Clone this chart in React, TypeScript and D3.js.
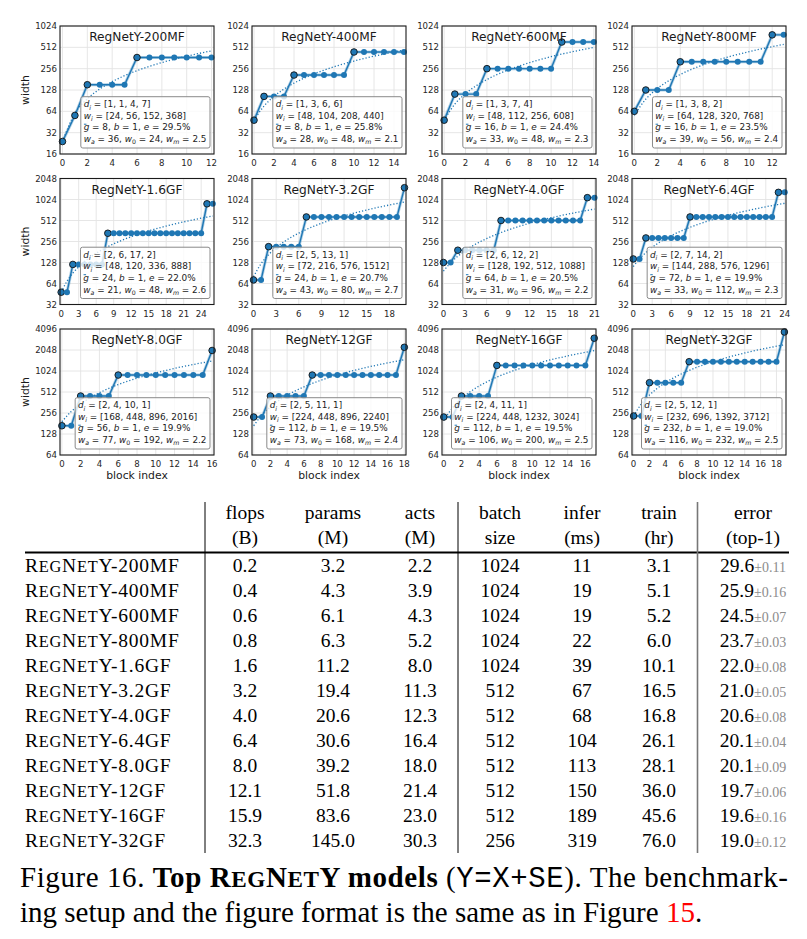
import React, { useEffect, useRef } from "react";
import * as d3 from "d3";

// ---------- panel data ----------
const modelNames = [
  "RegNetY-200MF", "RegNetY-400MF", "RegNetY-600MF", "RegNetY-800MF",
  "RegNetY-1.6GF", "RegNetY-3.2GF", "RegNetY-4.0GF", "RegNetY-6.4GF",
  "RegNetY-8.0GF", "RegNetY-12GF", "RegNetY-16GF", "RegNetY-32GF",
];
const stageDepths = [
  [1, 1, 4, 7], [1, 3, 6, 6], [1, 3, 7, 4], [1, 3, 8, 2],
  [2, 6, 17, 2], [2, 5, 13, 1], [2, 6, 12, 2], [2, 7, 14, 2],
  [2, 4, 10, 1], [2, 5, 11, 1], [2, 4, 11, 1], [2, 5, 12, 1],
];
const stageWidths = [
  [24, 56, 152, 368], [48, 104, 208, 440], [48, 112, 256, 608], [64, 128, 320, 768],
  [48, 120, 336, 888], [72, 216, 576, 1512], [128, 192, 512, 1088], [144, 288, 576, 1296],
  [168, 448, 896, 2016], [224, 448, 896, 2240], [224, 448, 1232, 3024], [232, 696, 1392, 3712],
];
const groupG = [8, 8, 16, 16, 24, 24, 64, 72, 56, 112, 112, 232];
const bottleneckB = [1, 1, 1, 1, 1, 1, 1, 1, 1, 1, 1, 1];
const errorE = ["29.5", "25.8", "24.4", "23.5", "22.0", "20.7", "20.5", "19.9", "19.9", "19.5", "19.5", "19.0"];
const slopeWa = [36, 28, 33, 39, 21, 43, 31, 33, 77, 73, 106, 116];
const initW0 = [24, 48, 48, 56, 48, 80, 96, 112, 192, 168, 200, 232];
const multWm = ["2.5", "2.1", "2.3", "2.4", "2.6", "2.7", "2.2", "2.3", "2.2", "2.4", "2.5", "2.5"];
const rowYDomains = [[16, 1024], [32, 2048], [64, 4096]];
const rowXTickStep = [2, 3, 2];

// ---------- table data ----------
const tableSuffix = ["200MF", "400MF", "600MF", "800MF", "1.6GF", "3.2GF", "4.0GF", "6.4GF", "8.0GF", "12GF", "16GF", "32GF"];
const colFlops = ["0.2", "0.4", "0.6", "0.8", "1.6", "3.2", "4.0", "6.4", "8.0", "12.1", "15.9", "32.3"];
const colParams = ["3.2", "4.3", "6.1", "6.3", "11.2", "19.4", "20.6", "30.6", "39.2", "51.8", "83.6", "145.0"];
const colActs = ["2.2", "3.9", "4.3", "5.2", "8.0", "11.3", "12.3", "16.4", "18.0", "21.4", "23.0", "30.3"];
const colBatch = ["1024", "1024", "1024", "1024", "1024", "512", "512", "512", "512", "512", "512", "256"];
const colInfer = ["11", "19", "19", "22", "39", "67", "68", "104", "113", "150", "189", "319"];
const colTrain = ["3.1", "5.1", "5.2", "6.0", "10.1", "16.5", "16.8", "26.1", "28.1", "36.0", "45.6", "76.0"];
const colError = ["29.6", "25.9", "24.5", "23.7", "22.0", "21.0", "20.6", "20.1", "20.1", "19.7", "19.6", "19.0"];
const colErrStd = ["0.11", "0.16", "0.07", "0.03", "0.08", "0.05", "0.08", "0.04", "0.09", "0.06", "0.16", "0.12"];
const headTop = ["flops", "params", "acts", "batch", "infer", "train", "error"];
const headBot = ["(B)", "(M)", "(M)", "size", "(ms)", "(hr)", "(top-1)"];

const BLUE = "#1f77b4";
const SANS = "DejaVu Sans";
const SERIF = "Liberation Serif";
const MONO = "Liberation Mono, DejaVu Sans Mono, monospace";

type Seg = { t: string; it?: boolean; sub?: boolean };

function richText(g: any, segs: Seg[], x: number, y: number, fs: number) {
  const t = g.append("text").attr("x", x).attr("y", y).attr("font-size", fs)
    .attr("font-family", SANS).attr("fill", "#222");
  let inSub = false;
  segs.forEach((s) => {
    const ts = t.append("tspan").text(s.t);
    if (s.it) ts.attr("font-style", "italic");
    if (s.sub && !inSub) { ts.attr("dy", fs * 0.28).attr("font-size", fs * 0.7); inSub = true; }
    else if (s.sub) ts.attr("font-size", fs * 0.7);
    else if (!s.sub && inSub) { ts.attr("dy", -fs * 0.28); inSub = false; }
  });
  return t;
}

export default function App() {
  const ref = useRef<SVGSVGElement>(null);

  useEffect(() => {
    const svg = d3.select(ref.current);
    svg.selectAll("*").remove();
    svg.append("rect").attr("width", 807).attr("height", 939).attr("fill", "#fff");

    const colLefts = [60, 252, 442, 632];
    const plotW = 154;
    const rowTops = [26, 178.5, 329];
    const rowBots = [154, 304.5, 455];

    modelNames.forEach((name, k) => {
      const r = Math.floor(k / 4), c = k % 4;
      const x0 = colLefts[c], x1 = x0 + plotW, y0 = rowTops[r], y1 = rowBots[r];
      const depth = d3.sum(stageDepths[k]);
      const blockW: number[] = [];
      const firstIdx: number[] = [];
      stageDepths[k].forEach((d, s) => {
        firstIdx.push(blockW.length);
        for (let i = 0; i < d; i++) blockW.push(stageWidths[k][s]);
      });
      const idx = d3.range(depth);
      const xs = d3.scaleLinear().domain([-0.2, depth - 1 + 0.2]).range([x0, x1]);
      const ys = d3.scaleLog().base(2).domain(rowYDomains[r]).range([y1, y0]);
      const yTicks: number[] = [];
      for (let v = rowYDomains[r][0]; v <= rowYDomains[r][1]; v *= 2) yTicks.push(v);
      const xTicks = d3.range(0, depth, rowXTickStep[r]);

      const g = svg.append("g");
      // grid
      g.selectAll(".gx").data(xTicks).join("line")
        .attr("x1", (d: number) => xs(d)).attr("x2", (d: number) => xs(d))
        .attr("y1", y0).attr("y2", y1).attr("stroke", "#e3e3e3").attr("stroke-width", 0.9);
      g.selectAll(".gy").data(yTicks).join("line")
        .attr("x1", x0).attr("x2", x1)
        .attr("y1", (d: number) => ys(d)).attr("y2", (d: number) => ys(d))
        .attr("stroke", "#e3e3e3").attr("stroke-width", 0.9);

      // dotted linear parameterization
      const lin = d3.line<number>().x((j) => xs(j)).y((j) => ys(initW0[k] + slopeWa[k] * j)).curve(d3.curveMonotoneX);
      g.append("path").attr("d", lin(idx)).attr("fill", "none").attr("stroke", BLUE)
        .attr("stroke-width", 1.3).attr("stroke-dasharray", "1.2,2");

      // quantized widths
      const ln = d3.line<number>().x((j) => xs(j)).y((j) => ys(blockW[j]));
      g.append("path").attr("d", ln(idx)).attr("fill", "none").attr("stroke", BLUE)
        .attr("stroke-width", 3).attr("stroke-opacity", 0.35);
      g.append("path").attr("d", ln(idx)).attr("fill", "none").attr("stroke", BLUE)
        .attr("stroke-width", 1.4);
      g.selectAll(".m").data(idx).join("circle")
        .attr("cx", (j: number) => xs(j)).attr("cy", (j: number) => ys(blockW[j]))
        .attr("r", (j: number) => (firstIdx.includes(j) ? 3.3 : 3))
        .attr("fill", BLUE)
        .attr("stroke", (j: number) => (firstIdx.includes(j) ? "#111" : "none"))
        .attr("stroke-width", 0.9);

      // frame
      g.append("rect").attr("x", x0).attr("y", y0).attr("width", x1 - x0).attr("height", y1 - y0)
        .attr("fill", "none").attr("stroke", "#1a1a1a").attr("stroke-width", 1.1);

      // title
      g.append("text").attr("x", (x0 + x1) / 2).attr("y", y0 + 15).attr("text-anchor", "middle")
        .attr("font-family", SANS).attr("font-size", 12.2).attr("fill", "#1a1a1a").text(name);

      // legend box
      const lg = g.append("g");
      const fs = 8.9, lh = 11.6;
      const lines: Seg[][] = [
        [{ t: "d", it: true }, { t: "i", it: true, sub: true }, { t: ` = [${stageDepths[k].join(", ")}]` }],
        [{ t: "w", it: true }, { t: "i", it: true, sub: true }, { t: ` = [${stageWidths[k].join(", ")}]` }],
        [{ t: "g", it: true }, { t: ` = ${groupG[k]}, ` }, { t: "b", it: true }, { t: ` = ${bottleneckB[k]}, ` }, { t: "e", it: true }, { t: ` = ${errorE[k]}%` }],
        [{ t: "w", it: true }, { t: "a", it: true, sub: true }, { t: ` = ${slopeWa[k]}, ` }, { t: "w", it: true }, { t: "0", sub: true }, { t: ` = ${initW0[k]}, ` }, { t: "w", it: true }, { t: "m", it: true, sub: true }, { t: ` = ${multWm[k]}` }],
      ];
      const rect = lg.append("rect");
      const tg = lg.append("g");
      lines.forEach((segs, i) => richText(tg, segs, 0, i * lh, fs));
      tg.append("line").attr("x1", 0.3).attr("x2", 2.8).attr("y1", 2 * lh - 6.2).attr("y2", 2 * lh - 6.2)
        .attr("stroke", BLUE).attr("stroke-width", 1);
      const bb = (tg.node() as SVGGElement).getBBox();
      const padL = 2.8, padR = 3.5, padT = 2.5, padB = 2.5;
      rect.attr("x", bb.x - padL).attr("y", bb.y - padT).attr("width", bb.width + padL + padR)
        .attr("height", bb.height + padT + padB).attr("rx", 2).attr("fill", "#fff").attr("fill-opacity", 0.8)
        .attr("stroke", "#8a8a8a").attr("stroke-width", 1);
      const bw = bb.width + padL + padR, bh = bb.height + padT + padB;
      const tx = x1 - 4 - bw - (bb.x - padL), ty = y1 - 6 - bh - (bb.y - padT);
      lg.attr("transform", `translate(${tx},${ty})`);

      // tick labels
      g.selectAll(".yt").data(yTicks).join("text")
        .attr("x", x0 - 3).attr("y", (d: number) => ys(d)).attr("dy", "0.35em").attr("text-anchor", "end")
        .attr("font-family", SANS).attr("font-size", 8.6).attr("fill", "#262626").text((d: number) => String(d));
      g.selectAll(".xt").data(xTicks).join("text")
        .attr("x", (d: number) => xs(d)).attr("y", y1 + 12).attr("text-anchor", "middle")
        .attr("font-family", SANS).attr("font-size", 8.6).attr("fill", "#262626").text((d: number) => String(d));

      if (c === 0) {
        g.append("text").attr("transform", `translate(29,${(y0 + y1) / 2}) rotate(-90)`)
          .attr("text-anchor", "middle").attr("font-family", SANS).attr("font-size", 10.8)
          .attr("fill", "#1a1a1a").text("width");
      }
      if (r === 2) {
        g.append("text").attr("x", (x0 + x1) / 2).attr("y", y1 + 24).attr("text-anchor", "middle")
          .attr("font-family", SANS).attr("font-size", 10.8).attr("fill", "#1a1a1a").text("block index");
      }
    });

    // ---------- table ----------
    const T = svg.append("g").attr("font-family", SERIF).attr("fill", "#000");
    const F = 19.5;
    const colX = [245, 333, 420, 500, 582, 659, 753];
    headTop.forEach((h, i) => {
      T.append("text").attr("x", colX[i]).attr("y", 519).attr("text-anchor", "middle").attr("font-size", F).text(h);
      T.append("text").attr("x", colX[i]).attr("y", 544).attr("text-anchor", "middle").attr("font-size", F).text(headBot[i]);
    });
    T.append("line").attr("x1", 25).attr("x2", 789).attr("y1", 552.5).attr("y2", 552.5)
      .attr("stroke", "#000").attr("stroke-width", 2);
    [[205, "#000", 1], [458, "#000", 1], [697.5, "#777", 1.6]].forEach(([x, col, w]) => {
      T.append("line").attr("x1", x).attr("x2", x).attr("y1", 502).attr("y2", 853)
        .attr("stroke", col as string).attr("stroke-width", w as number);
    });
    const cols = [colFlops, colParams, colActs, colBatch, colInfer, colTrain];
    tableSuffix.forEach((suf, i) => {
      const y = 571.7 + i * 25;
      const nt = T.append("text").attr("x", 25).attr("y", y).attr("font-size", F).attr("letter-spacing", 0.75);
      [["R", 1], ["EG", 0.84], ["N", 1], ["ET", 0.84], ["Y-" + suf, 1]].forEach(([s, sc]) => {
        nt.append("tspan").attr("font-size", F * (sc as number)).text(s as string);
      });
      cols.forEach((col, j) => {
        T.append("text").attr("x", colX[j]).attr("y", y).attr("text-anchor", "middle").attr("font-size", F).text(col[i]);
      });
      const et = T.append("text").attr("x", colX[6]).attr("y", y).attr("text-anchor", "middle").attr("font-size", F);
      et.append("tspan").text(colError[i]);
      et.append("tspan").attr("font-size", 14).attr("fill", "#8c8c8c").text("\u00b1" + colErrStd[i]);
    });

    // ---------- caption ----------
    const CF = 29;
    const c1 = svg.append("text").attr("x", 20).attr("y", 886.7).attr("font-family", SERIF).attr("font-size", CF)
      .attr("fill", "#000");
    const segs1: [string, string, number, string][] = [
      ["Figure 16. ", "normal", 1, SERIF],
      ["Top R", "bold", 1, SERIF], ["EG", "bold", 0.8, SERIF], ["N", "bold", 1, SERIF],
      ["ET", "bold", 0.8, SERIF], ["Y models", "bold", 1, SERIF],
      [" (", "normal", 1, SERIF], ["Y=X+SE", "normal", 1, MONO], ["). The benchmark-", "normal", 1, SERIF],
    ];
    segs1.forEach(([s, w, sc, fam]) => {
      c1.append("tspan").attr("font-weight", w).attr("font-size", CF * sc).attr("font-family", fam).text(s);
    });
    c1.attr("textLength", 768).attr("lengthAdjust", "spacing");
    const c2 = svg.append("text").attr("x", 20).attr("y", 921.7).attr("font-family", SERIF).attr("font-size", CF)
      .attr("fill", "#000");
    c2.append("tspan").text("ing setup and the figure format is the same as in Figure ");
    c2.append("tspan").attr("fill", "#ff0000").text("15");
    c2.append("tspan").text(".");
  }, []);

  return (
    <svg ref={ref} width={807} height={939} style={{ position: "absolute", left: 0, top: 0, display: "block" }} />
  );
}
